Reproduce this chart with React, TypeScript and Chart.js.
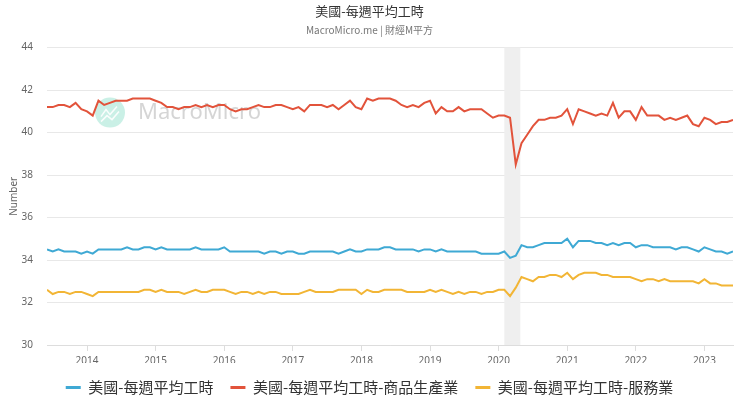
import React, { useEffect, useRef } from 'react';
import { Chart, registerables } from 'chart.js';

Chart.register(...registerables);

const TITLE = '美國-每週平均工時';
const SUBTITLE = 'MacroMicro.me | 財經M平方';
const Y_TITLE = 'Number';
const START_YEAR = 2013;
const START_MONTH = 6;
const MONTH_COUNT = 121;

const monthLabels: string[] = Array.from({ length: MONTH_COUNT }, (_, i) => {
  const m = START_MONTH - 1 + i;
  return `${START_YEAR + Math.floor(m / 12)}-${String((m % 12) + 1).padStart(2, '0')}`;
});

const recession = ['2020-02', '2020-04'];

const seriesNames = ['美國-每週平均工時', '美國-每週平均工時-商品生產業', '美國-每週平均工時-服務業'];
const seriesColors = ['#3fa9d4', '#e2533b', '#f2b535'];

const totalHours = [
  34.5, 34.4, 34.5, 34.4, 34.4, 34.4, 34.3,
  34.4, 34.3, 34.5, 34.5, 34.5, 34.5, 34.5, 34.6, 34.5, 34.5, 34.6, 34.6,
  34.5, 34.6, 34.5, 34.5, 34.5, 34.5, 34.5, 34.6, 34.5, 34.5, 34.5, 34.5,
  34.6, 34.4, 34.4, 34.4, 34.4, 34.4, 34.4, 34.3, 34.4, 34.4, 34.3, 34.4,
  34.4, 34.3, 34.3, 34.4, 34.4, 34.4, 34.4, 34.4, 34.3, 34.4, 34.5, 34.4,
  34.4, 34.5, 34.5, 34.5, 34.6, 34.6, 34.5, 34.5, 34.5, 34.5, 34.4, 34.5,
  34.5, 34.4, 34.5, 34.4, 34.4, 34.4, 34.4, 34.4, 34.4, 34.3, 34.3, 34.3,
  34.3, 34.4, 34.1, 34.2, 34.7, 34.6, 34.6, 34.7, 34.8, 34.8, 34.8, 34.8,
  35.0, 34.6, 34.9, 34.9, 34.9, 34.8, 34.8, 34.7, 34.8, 34.7, 34.8, 34.8,
  34.6, 34.7, 34.7, 34.6, 34.6, 34.6, 34.6, 34.5, 34.6, 34.6, 34.5, 34.4,
  34.6, 34.5, 34.4, 34.4, 34.3, 34.4,
];

const goodsHours = [
  41.2, 41.2, 41.3, 41.3, 41.2, 41.4, 41.1,
  41.0, 40.8, 41.5, 41.3, 41.4, 41.5, 41.5, 41.5, 41.6, 41.6, 41.6, 41.6,
  41.5, 41.4, 41.2, 41.2, 41.1, 41.2, 41.2, 41.3, 41.2, 41.3, 41.2, 41.3,
  41.3, 41.1, 41.0, 41.1, 41.1, 41.2, 41.3, 41.2, 41.2, 41.3, 41.3, 41.2,
  41.1, 41.2, 41.0, 41.3, 41.3, 41.3, 41.2, 41.3, 41.1, 41.3, 41.5, 41.2,
  41.1, 41.6, 41.5, 41.6, 41.6, 41.6, 41.5, 41.3, 41.2, 41.3, 41.2, 41.4,
  41.5, 40.9, 41.2, 41.0, 41.0, 41.2, 41.0, 41.1, 41.1, 41.1, 40.9, 40.7,
  40.8, 40.8, 40.7, 38.5, 39.5, 39.9, 40.3, 40.6, 40.6, 40.7, 40.7, 40.8,
  41.1, 40.4, 41.1, 41.0, 40.9, 40.8, 40.9, 40.8, 41.4, 40.7, 41.0, 41.0,
  40.6, 41.2, 40.8, 40.8, 40.8, 40.6, 40.7, 40.6, 40.7, 40.8, 40.4, 40.3,
  40.7, 40.6, 40.4, 40.5, 40.5, 40.6,
];

const servicesHours = [
  32.6, 32.4, 32.5, 32.5, 32.4, 32.5, 32.5,
  32.4, 32.3, 32.5, 32.5, 32.5, 32.5, 32.5, 32.5, 32.5, 32.5, 32.6, 32.6,
  32.5, 32.6, 32.5, 32.5, 32.5, 32.4, 32.5, 32.6, 32.5, 32.5, 32.6, 32.6,
  32.6, 32.5, 32.4, 32.5, 32.5, 32.4, 32.5, 32.4, 32.5, 32.5, 32.4, 32.4,
  32.4, 32.4, 32.5, 32.6, 32.5, 32.5, 32.5, 32.5, 32.6, 32.6, 32.6, 32.6,
  32.4, 32.6, 32.5, 32.5, 32.6, 32.6, 32.6, 32.6, 32.5, 32.5, 32.5, 32.5,
  32.6, 32.5, 32.6, 32.5, 32.4, 32.5, 32.4, 32.5, 32.5, 32.4, 32.5, 32.5,
  32.6, 32.6, 32.3, 32.7, 33.2, 33.1, 33.0, 33.2, 33.2, 33.3, 33.3, 33.2,
  33.4, 33.1, 33.3, 33.4, 33.4, 33.4, 33.3, 33.3, 33.2, 33.2, 33.2, 33.2,
  33.1, 33.0, 33.1, 33.1, 33.0, 33.1, 33.0, 33.0, 33.0, 33.0, 33.0, 32.9,
  33.1, 32.9, 32.9, 32.8, 32.8, 32.8,
];

const Y_MIN = 30;
const Y_MAX = 44;
const Y_STEP = 2;

const CJK = '"Noto Sans CJK TC", "Noto Sans", sans-serif';
const SANS = '"Noto Sans", "DejaVu Sans", sans-serif';

const backdropPlugin = {
  id: 'backdrop',
  beforeDatasetsDraw(chart: any) {
    const { ctx, chartArea: a, scales } = chart;
    const x = scales.x;
    const s = monthLabels.indexOf(recession[0]);
    const e = monthLabels.indexOf(recession[1]) + 0.8;
    const x0 = x.getPixelForValue(s);
    const x1 = x.getPixelForValue(e);
    ctx.save();
    ctx.fillStyle = '#efefef';
    ctx.fillRect(x0, a.top, x1 - x0, a.bottom - a.top);

    // watermark
    const cx = a.left + 63;
    const cy = a.top + 65;
    ctx.fillStyle = 'rgba(150, 226, 206, 0.5)';
    ctx.beginPath();
    ctx.arc(cx, cy, 15, 0, Math.PI * 2);
    ctx.fill();
    ctx.strokeStyle = 'rgba(255,255,255,0.9)';
    ctx.lineWidth = 1.5;
    ctx.beginPath();
    ctx.moveTo(cx - 9, cy + 4);
    ctx.lineTo(cx - 4, cy - 3);
    ctx.lineTo(cx, cy + 2);
    ctx.lineTo(cx + 7, cy - 6);
    ctx.stroke();
    ctx.beginPath();
    ctx.moveTo(cx - 9, cy + 9);
    ctx.lineTo(cx - 3, cy + 3);
    ctx.lineTo(cx + 2, cy + 7);
    ctx.lineTo(cx + 9, cy - 1);
    ctx.stroke();
    ctx.font = `22px ${SANS}`;
    ctx.fillStyle = 'rgba(185,185,185,0.6)';
    ctx.textBaseline = 'middle';
    ctx.textAlign = 'left';
    ctx.fillText('MacroMicro', a.left + 91, cy);
    ctx.restore();
  },
};

export default function App() {
  const canvasRef = useRef<HTMLCanvasElement | null>(null);

  useEffect(() => {
    if (!canvasRef.current) return;
    const series = [totalHours, goodsHours, servicesHours];
    const chart = new Chart(canvasRef.current, {
      type: 'line',
      data: {
        datasets: series.map((vals, k) => ({
          label: seriesNames[k],
          data: vals.map((v, i) => ({ x: i, y: v })),
          borderColor: seriesColors[k],
          backgroundColor: seriesColors[k],
          borderWidth: 2,
          pointRadius: 0,
          pointHoverRadius: 0,
          tension: 0,
          fill: false,
        })),
      },
      options: {
        animation: false,
        responsive: true,
        maintainAspectRatio: false,
        layout: { padding: { left: 6, right: 7, top: 0, bottom: 11 } },
        plugins: {
          title: {
            display: true,
            text: TITLE,
            color: '#333',
            font: { family: CJK, size: 13, weight: 'normal' },
            padding: { top: 3, bottom: 2 },
          },
          subtitle: {
            display: true,
            text: SUBTITLE,
            color: '#777',
            font: { family: CJK, size: 10, weight: 'normal' },
            padding: { top: 4, bottom: 11 },
          },
          legend: {
            position: 'bottom',
            labels: {
              color: '#333',
              font: { family: CJK, size: 15 },
              boxWidth: 15,
              boxHeight: 3,
              padding: 17,
              generateLabels: (c: any) =>
                Chart.defaults.plugins.legend.labels.generateLabels(c).map((l: any) => ({ ...l, lineWidth: 0 })),
            },
          },
          tooltip: { enabled: false },
        },
        scales: {
          x: {
            type: 'linear',
            min: 0,
            max: MONTH_COUNT - 1,
            afterBuildTicks: (scale: any) => {
              scale.ticks = monthLabels
                .map((l, i) => ({ l, i }))
                .filter((t) => t.l.endsWith('-01'))
                .map((t) => ({ value: t.i }));
            },
            afterFit: (scale: any) => {
              scale.height = scale.height - 8;
            },
            ticks: {
              autoSkip: false,
              maxRotation: 0,
              color: '#666',
              font: { family: SANS, size: 10 },
              padding: 4,
              callback: (v: any) => monthLabels[Math.round(v)]?.slice(0, 4) ?? '',
            },
            grid: { drawOnChartArea: false, drawTicks: true, tickLength: 6, color: '#ddd' },
            border: { display: true, color: '#ddd', width: 1 },
          },
          y: {
            min: Y_MIN,
            max: Y_MAX,
            afterFit: (scale: any) => {
              scale.width = 41;
            },
            ticks: {
              stepSize: Y_STEP,
              color: '#666',
              font: { family: SANS, size: 10 },
              padding: 14,
            },
            grid: { color: '#e8e8e8', drawTicks: false },
            border: { display: false },
            title: {
              display: true,
              text: Y_TITLE,
              color: '#666',
              font: { family: SANS, size: 10 },
              padding: { top: 2, bottom: 2 },
            },
          },
        },
      },
      plugins: [backdropPlugin],
    } as any);
    return () => chart.destroy();
  }, []);

  return (
    <div style={{ position: 'fixed', left: 0, top: 0, width: 740, height: 416, background: '#fff' }}>
      <canvas ref={canvasRef} />
    </div>
  );
}
